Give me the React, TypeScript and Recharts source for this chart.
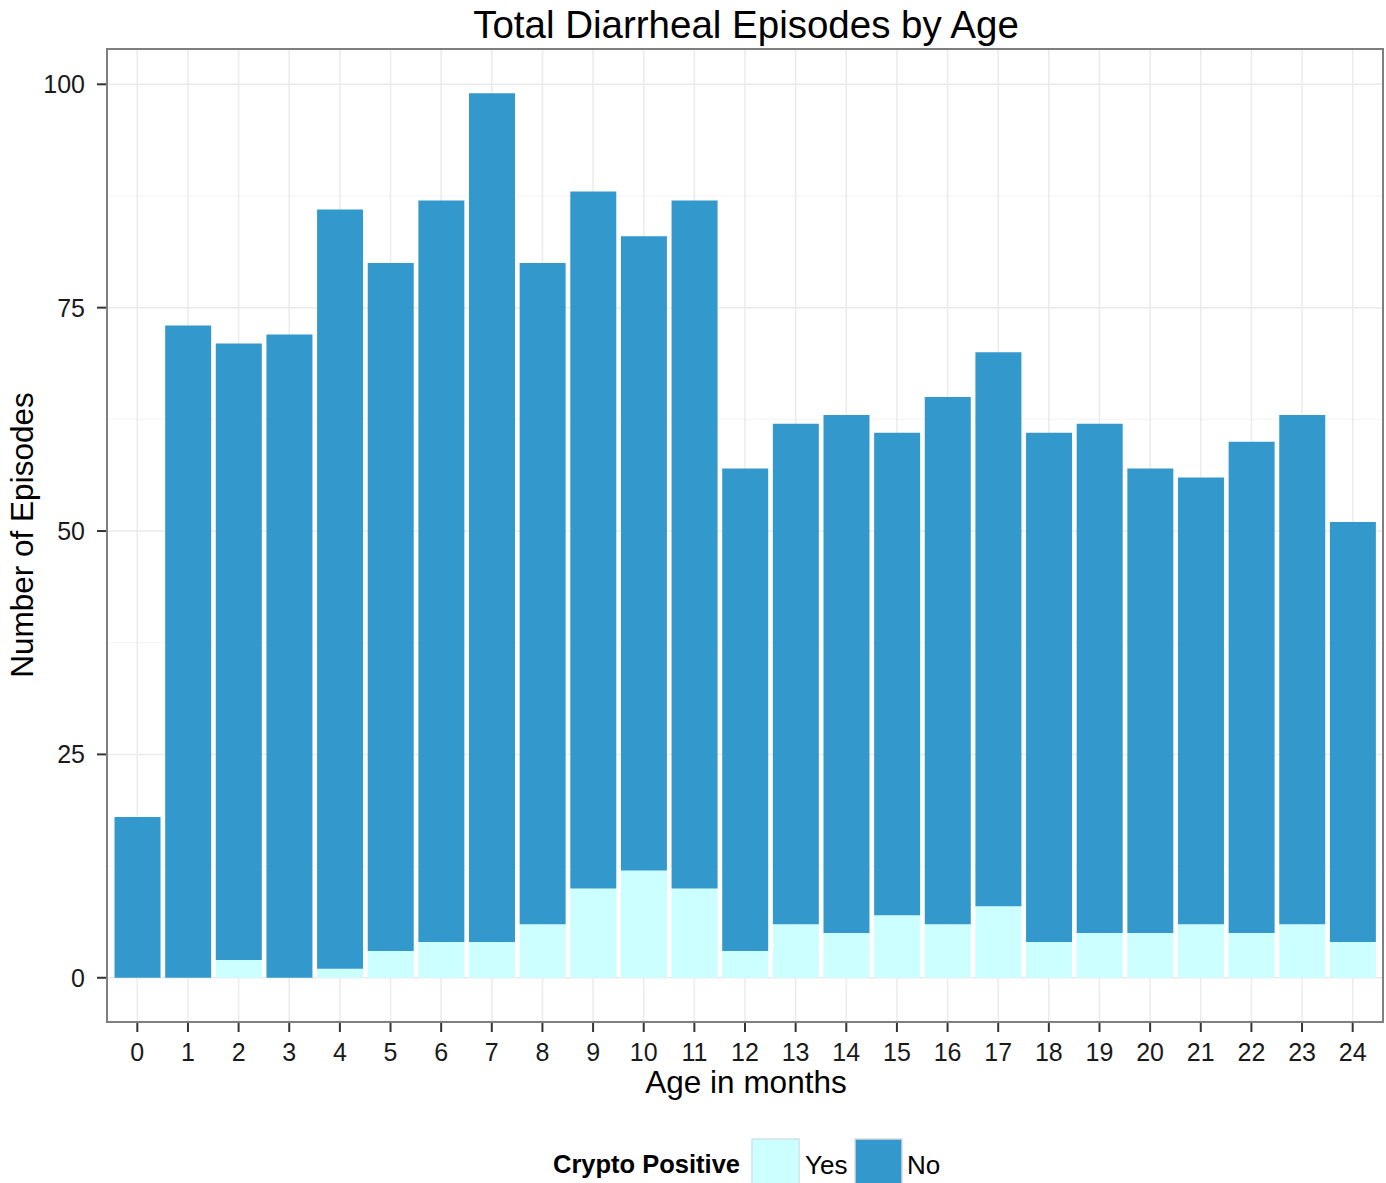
import { Bar, BarChart, CartesianGrid, XAxis, YAxis } from 'recharts'

// ages 0..24 months
const ages = [
  '0', '1', '2', '3', '4', '5', '6', '7', '8', '9', '10', '11', '12',
  '13', '14', '15', '16', '17', '18', '19', '20', '21', '22', '23', '24',
]
// crypto positive episodes (bottom of each stack)
const cryptoYes = [0, 0, 2, 0, 1, 3, 4, 4, 6, 10, 12, 10, 3, 6, 5, 7, 6, 8, 4, 5, 5, 6, 5, 6, 4]
// crypto negative episodes (top of each stack)
const cryptoNo = [18, 73, 69, 72, 85, 77, 83, 95, 74, 78, 71, 77, 54, 56, 58, 54, 59, 62, 57, 57, 52, 50, 55, 57, 47]

const yTicks = [0, 25, 50, 75, 100]
const yMinor = [12.5, 37.5, 62.5, 87.5]

const YES_COLOR = '#CCFFFF'
const NO_COLOR = '#3399CC'
const FONT = '"Liberation Sans", Arial, Helvetica, sans-serif'

const W = 1386
const H = 1183

export default function App() {
  const data = ages.map((age, i) => ({ age, yes: cryptoYes[i], no: cryptoNo[i] }))

  return (
    <div style={{ position: 'absolute', left: 0, top: 0, width: W, height: H, background: '#fff', fontFamily: FONT }}>
      <BarChart
        width={W}
        height={H}
        data={data}
        margin={{ top: 49, right: 3, left: 0, bottom: 71 }}
        barCategoryGap="5%"
      >
        <CartesianGrid vertical={false} horizontalValues={yMinor} stroke="#f7f7f7" strokeWidth={1.5} />
        <CartesianGrid stroke="#ebebeb" strokeWidth={1.5} />
        <XAxis
          dataKey="age"
          height={90}
          padding={{ left: 5, right: 5 }}
          axisLine={false}
          tickSize={10}
          tickMargin={11}
          tickLine={{ stroke: '#333', strokeWidth: 2 }}
          tick={{ fill: '#1a1a1a', fontSize: 25, fontFamily: FONT }}
          interval={0}
        />
        <YAxis
          width={107}
          domain={[-4.95, 103.95]}
          ticks={yTicks}
          axisLine={false}
          tickSize={10}
          tickMargin={12}
          tickLine={{ stroke: '#333', strokeWidth: 2 }}
          tick={{ fill: '#1a1a1a', fontSize: 25, fontFamily: FONT }}
        />
        <Bar dataKey="yes" name="Yes" stackId="a" fill={YES_COLOR} isAnimationActive={false} />
        <Bar dataKey="no" name="No" stackId="a" fill={NO_COLOR} isAnimationActive={false} />
      </BarChart>

      <svg
        width={W}
        height={H}
        style={{ position: 'absolute', left: 0, top: 0, pointerEvents: 'none' }}
        fontFamily={FONT}
      >
        {/* panel border */}
        <rect x={107} y={49} width={1276} height={973} fill="none" stroke="#7f7f7f" strokeWidth={2} />
        <text x={746} y={38} textAnchor="middle" fontSize={38.5} fill="#000">
          Total Diarrheal Episodes by Age
        </text>
        <text x={746} y={1093} textAnchor="middle" fontSize={31.5} fill="#000">
          Age in months
        </text>
        <text x={33} y={535} textAnchor="middle" fontSize={31.5} fill="#000" transform="rotate(-90 33 535)">
          Number of Episodes
        </text>
        {/* legend */}
        <text x={553} y={1173} fontSize={25.5} fontWeight="bold" fill="#000">
          Crypto Positive
        </text>
        <rect x={752} y={1139} width={47} height={47} fill={YES_COLOR} stroke="#d0e4e4" strokeWidth={1.5} />
        <text x={805} y={1174} fontSize={26} fill="#000">
          Yes
        </text>
        <rect x={855} y={1139} width={47} height={47} fill={NO_COLOR} stroke="#d9d9d9" strokeWidth={1.5} />
        <text x={907} y={1174} fontSize={26} fill="#000">
          No
        </text>
      </svg>
    </div>
  )
}
